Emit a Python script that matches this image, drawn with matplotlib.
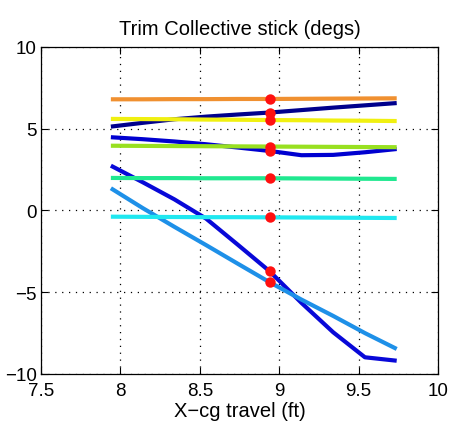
import matplotlib
matplotlib.use("Agg")
import matplotlib.pyplot as plt

plt.rcParams['font.family'] = ['Liberation Sans', 'DejaVu Sans']

# cg stations along the sweep (ft)
xcg = [7.94, 8.14, 8.34, 8.54, 8.74, 8.94, 9.14, 9.34, 9.54, 9.74]
# index of the nominal cg station, marked with a red dot
nominal = 5

# trim collective stick for each flight condition (degs)
coll_navy = [5.13, 5.36, 5.58, 5.74, 5.87, 5.99, 6.14, 6.29, 6.43, 6.57]
coll_blue = [4.48, 4.36, 4.22, 4.05, 3.85, 3.64, 3.38, 3.40, 3.56, 3.76]
coll_steep = [2.74, 1.73, 0.68, -0.50, -2.10, -3.72, -5.65, -7.45, -8.98, -9.19]
coll_light = [1.36, 0.15, -1.00, -2.12, -3.26, -4.39, -5.45, -6.45, -7.50, -8.47]
coll_cyan = [-0.38, -0.39, -0.40, -0.41, -0.41, -0.42, -0.43, -0.44, -0.45, -0.46]
coll_spring = [1.99, 1.98, 1.98, 1.97, 1.97, 1.97, 1.96, 1.95, 1.94, 1.93]
coll_ygreen = [3.96, 3.95, 3.94, 3.93, 3.92, 3.91, 3.90, 3.89, 3.88, 3.87]
coll_yellow = [5.60, 5.59, 5.58, 5.56, 5.55, 5.53, 5.52, 5.50, 5.49, 5.47]
coll_orange = [6.80, 6.80, 6.81, 6.81, 6.82, 6.82, 6.83, 6.84, 6.85, 6.86]

series = [
    (coll_navy, '#00008c'),
    (coll_blue, '#0000d0'),
    (coll_steep, '#0808d8'),
    (coll_light, '#1e90e8'),
    (coll_cyan, '#20e8f0'),
    (coll_spring, '#20e890'),
    (coll_ygreen, '#98e020'),
    (coll_yellow, '#f0f010'),
    (coll_orange, '#f09030'),
]

fig = plt.figure(figsize=(4.52, 4.35), dpi=100)
ax = fig.add_axes([0.0907, 0.138, 0.8783, 0.7517])

for vals, col in series:
    ax.plot(xcg, vals, color=col, linewidth=3.0, solid_capstyle='butt', zorder=3)
for vals, col in series:
    ax.plot(xcg[nominal], vals[nominal], 'o', color='#ff1010', markersize=7.5,
            markeredgewidth=0, zorder=4)

ax.set_xlim(7.5, 10)
ax.set_ylim(-10, 10)
ax.set_xticks([7.5, 8, 8.5, 9, 9.5, 10])
ax.set_xticklabels(['7.5', '8', '8.5', '9', '9.5', '10'])
ax.set_yticks([-10, -5, 0, 5, 10])
ax.set_yticklabels(['\u221210', '\u22125', '0', '5', '10'])

ax.grid(True, color='black', linestyle=(0, (1, 4.5)), linewidth=0.9, zorder=1)
ax.tick_params(direction='in', top=True, right=True, length=5, width=0.8,
               labelsize=13.5, colors='black')
ax.tick_params(axis='x', pad=6)
ax.tick_params(axis='y', pad=3)
for sp in ax.spines.values():
    sp.set_linewidth(0.9)

ax.set_title('Trim Collective stick (degs)', fontsize=14.5, pad=9)
ax.set_xlabel('X\u2212cg travel (ft)', fontsize=14.5, labelpad=1)

fig.savefig('out.png', dpi=100)
